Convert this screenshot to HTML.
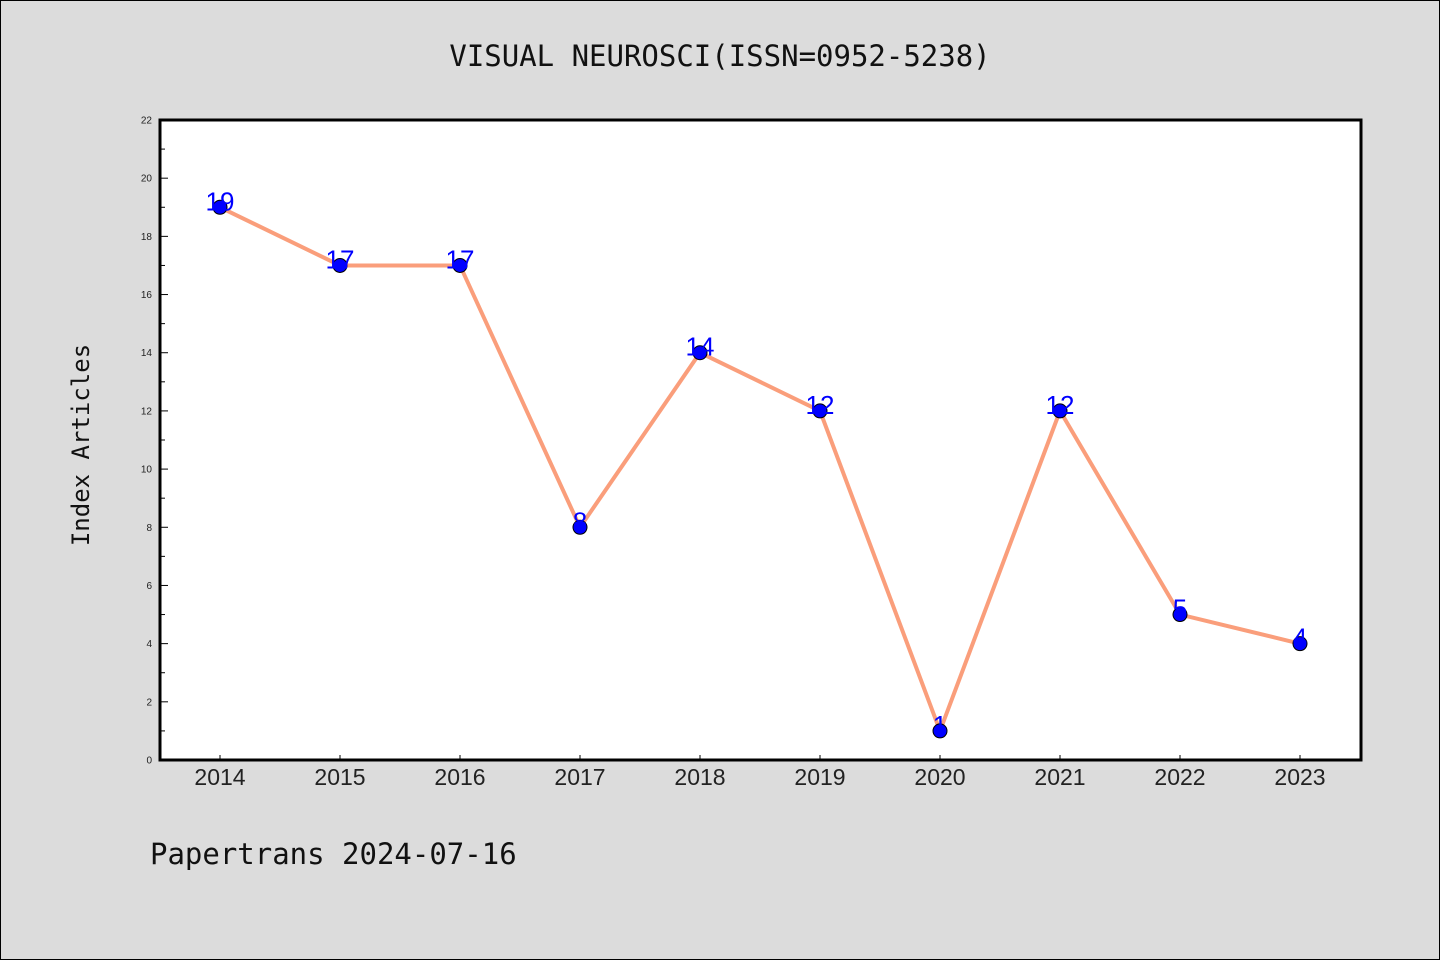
<!DOCTYPE html>
<html><head><meta charset="utf-8"><style>
body{margin:0;background:#dcdcdc}
svg{display:block}
</style></head><body>
<svg width="1440" height="960" xmlns="http://www.w3.org/2000/svg">
<rect x="0.5" y="0.5" width="1439" height="959" fill="#dcdcdc" stroke="#000" stroke-width="1"/>
<text x="720" y="66" text-anchor="middle" font-family="'DejaVu Sans Mono','Liberation Mono',monospace" font-size="29" fill="#111">VISUAL NEUROSCI(ISSN=0952-5238)</text>
<rect x="160" y="120" width="1201" height="640" fill="#fff"/>
<g id="axes"></g>
<path id="line" fill="none" stroke="#fa9e7b" stroke-width="4"/>
<g id="pts"></g>
<rect x="160" y="120" width="1201" height="640" fill="none" stroke="#000" stroke-width="3"/>
<text transform="translate(89,445) rotate(-90)" text-anchor="middle" font-family="'DejaVu Sans Mono','Liberation Mono',monospace" font-size="24" fill="#111">Index Articles</text>
<text x="150" y="864" font-family="'DejaVu Sans Mono','Liberation Mono',monospace" font-size="29" fill="#111">Papertrans 2024-07-16</text>
</svg>
<script>
const years=["2014","2015","2016","2017","2018","2019","2020","2021","2022","2023"];
const values=[19,17,17,8,14,12,1,12,5,4];
const yTicks=[0,2,4,6,8,10,12,14,16,18,20,22];
const NS="http://www.w3.org/2000/svg";
const x=i=>220+i*120;
const y=v=>760-v*(640/22);
const axes=document.getElementById('axes'),pts=document.getElementById('pts');
function mk(tag,attrs,parent){const e=document.createElementNS(NS,tag);for(const k in attrs)e.setAttribute(k,attrs[k]);parent.appendChild(e);return e;}
yTicks.forEach((t,i)=>{
 const tk=mk('line',{x1:160,x2:168,y1:y(t),y2:y(t),stroke:'#000','stroke-width':1},axes);
 
 
 const lb=mk('text',{x:152,y:y(t)+3.5,'text-anchor':'end','font-family':'Liberation Sans,sans-serif','font-size':10,fill:'#222'},axes);
 lb.textContent=t;
 
 
 if(i<yTicks.length-1){
  const m=mk('line',{x1:160,x2:165,y1:y(t+1),y2:y(t+1),stroke:'#000','stroke-width':1},axes);
  
  
 }
});
years.forEach((yr,i)=>{
 const tk=mk('line',{x1:x(i),x2:x(i),y1:755,y2:760,stroke:'#000','stroke-width':1},axes);
 
 
 const lb=mk('text',{x:x(i),y:785,'text-anchor':'middle','font-family':'Liberation Sans,sans-serif','font-size':23,fill:'#222'},axes);
 lb.textContent=yr;
 
 
});
document.getElementById('line').setAttribute('d',values.map((v,i)=>(i?'L':'M')+x(i)+','+y(v)).join(' '));
values.forEach((v,i)=>{
 const c=mk('circle',{cx:x(i),cy:y(v),r:7,fill:'#0000ff',stroke:'#000','stroke-width':1},pts);
 
 
 const t=mk('text',{x:x(i),y:y(v)+3,'text-anchor':'middle','font-family':'Liberation Sans,sans-serif','font-size':26,fill:'#0000ff'},pts);
 t.textContent=v;
 
 
});
</script>
</body></html>
